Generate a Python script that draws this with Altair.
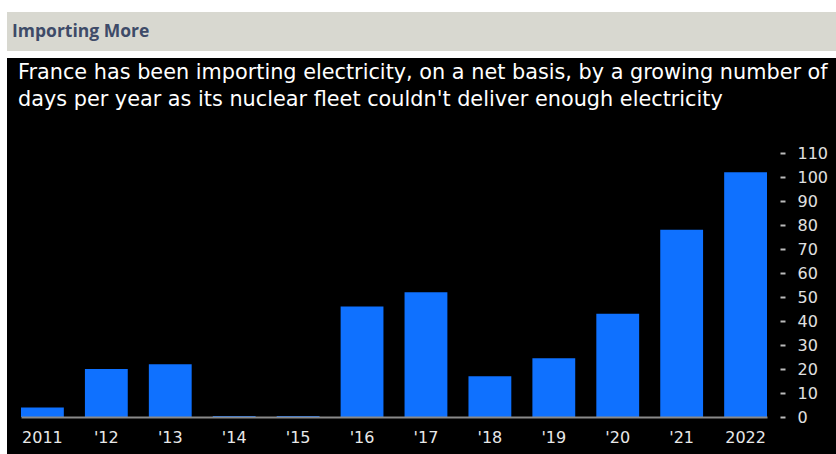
import altair as alt
import pandas as pd

years = ["2011", "'12", "'13", "'14", "'15", "'16", "'17", "'18", "'19", "'20", "'21", "2022"]
days = [4, 20, 22, 0.4, 0.4, 46, 52, 17, 24.5, 43, 78, 102]
y_ticks = [0, 10, 20, 30, 40, 50, 60, 70, 80, 90, 100, 110]

header = "Importing More"
title_lines = [
    "France has been importing electricity, on a net basis, by a growing number of",
    "days per year as its nuclear fleet couldn't deliver enough electricity",
]

df = pd.DataFrame({"year": years, "days": days})

FONT = "DejaVu Sans"
BLUE = "#0f71ff"

base = alt.Chart(df)
one = "datum.year == '2011'"

black_bg = base.mark_rect(color="black").encode(
    x=alt.value(-14), x2=alt.value(815), y=alt.value(-95), y2=alt.value(301)
).transform_filter(one)

gray_band = base.mark_rect(color="#d8d8d0").encode(
    x=alt.value(-14), x2=alt.value(815), y=alt.value(-141), y2=alt.value(-102)
).transform_filter(one)

header_text = base.mark_text(
    text=header, font="Open Sans", fontWeight="bold", fontSize=17.5, color="#3e4b68",
    align="left", baseline="alphabetic"
).encode(x=alt.value(-9), y=alt.value(-116)).transform_filter(one)

title_text = base.mark_text(
    text=title_lines, font=FONT, fontSize=20.8, color="white", lineHeight=27,
    align="left", baseline="alphabetic"
).encode(x=alt.value(-3), y=alt.value(-74)).transform_filter(one)

bars = base.mark_bar(color=BLUE).encode(
    x=alt.X(
        "year:N", sort=years,
        scale=alt.Scale(paddingInner=0.33, paddingOuter=0),
        axis=alt.Axis(
            title=None, labelAngle=0, ticks=False, tickSize=0, labelPadding=12,
            labelColor="#e8e8e8", labelFont=FONT, labelFontSize=16,
            domain=True, domainColor="#8a8a8a", domainWidth=2, grid=False, zindex=1,
        ),
    ),
    y=alt.Y(
        "days:Q",
        scale=alt.Scale(domain=[0, 110], nice=False),
        axis=alt.Axis(
            title=None, orient="right", values=y_ticks, offset=13, tickSize=5,
            tickWidth=2, tickColor="#bbbbbb", labelPadding=12, labelColor="#e0e0e0",
            labelFont=FONT, labelFontSize=16, domain=False, grid=False, zindex=1,
            labelBaseline="middle",
        ),
    ),
)

chart = alt.layer(black_bg, gray_band, header_text, title_text, bars).properties(
    width=746, height=264,
    autosize=alt.AutoSizeParams(type="none"),
    padding={"left": 21, "top": 153, "right": 69, "bottom": 37},
    background="white",
).configure_view(stroke=None)

chart.save("out.html", embed_options={"renderer": "svg", "actions": False})
